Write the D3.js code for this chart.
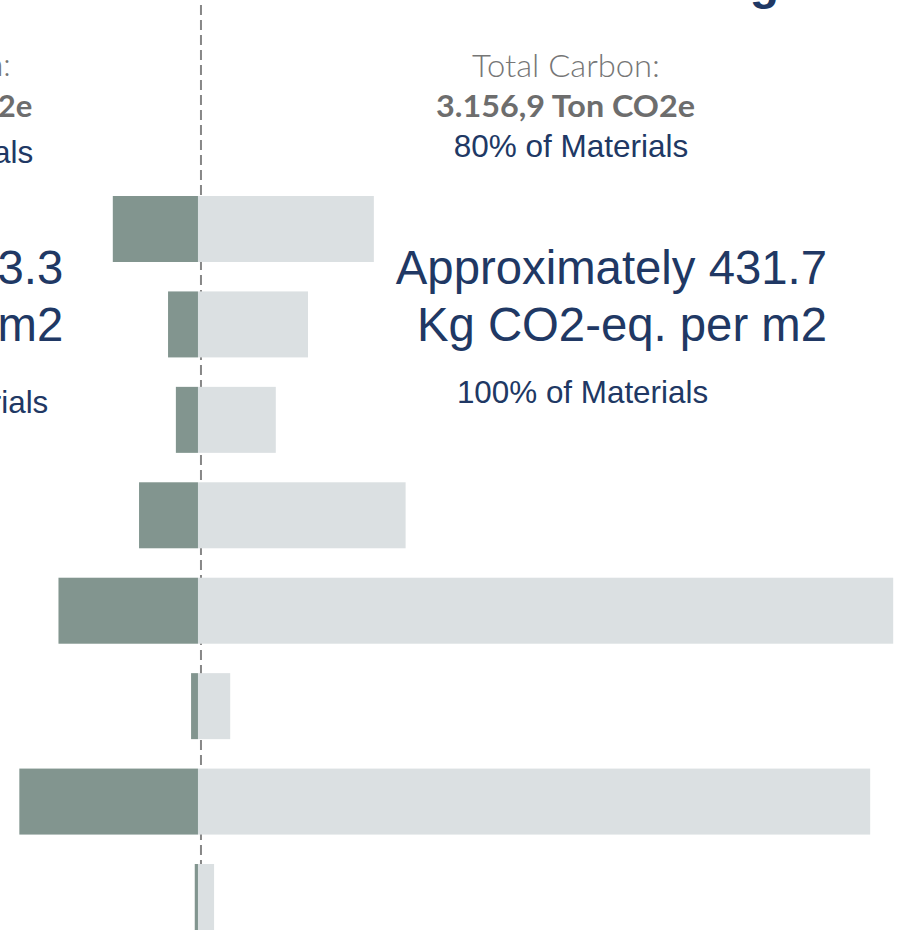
<!DOCTYPE html>
<html>
<head>
<meta charset="utf-8">
<script src="https://cdn.jsdelivr.net/npm/d3@7"></script>
<style>
  html, body { margin: 0; padding: 0; background: #ffffff; }
  svg { display: block; }
</style>
</head>
<body>
<div id="chart"></div>
<script>
// Material groups (one bar pair per group)
const categories = ["Group 1", "Group 2", "Group 3", "Group 4", "Group 5", "Group 6", "Group 7", "Group 8"];

// Embodied carbon per group, Kg CO2-eq. per m2
const reducedValues = [18.5, 6.5, 4.8, 12.8, 30.3, 1.5, 38.8, 0.7];     // drawn to the left
const fullValues    = [38.2, 23.9, 16.9, 45.1, 151.0, 7.0, 146.0, 3.5]; // drawn to the right

// Summary texts
const titleText = "Embodied Carbon of the Building";
const leftSummary  = ["Total Carbon:", "828,5 Ton CO2e", "21% of Materials"];
const rightSummary = ["Total Carbon:", "3.156,9 Ton CO2e", "80% of Materials"];
const leftPerM2  = ["Approximately 113.3", "Kg CO2-eq. per m2", "26% of Materials"];
const rightPerM2 = ["Approximately 431.7", "Kg CO2-eq. per m2", "100% of Materials"];

// Divider position on the value axis
const dividerValue = 0.65;

const width = 907, height = 933;
const navy = "#203864";
const grayText = "#767676";
const darkFill = "#82958f";
const lightFill = "#dbe0e2";

const svg = d3.select("#chart").append("svg")
  .attr("width", width).attr("height", height);

// Diverging value scale: reduced values go left of 0, full values right
const x = d3.scaleLinear().domain([-43, 154]).range([0, width]);
const y = d3.scaleBand().domain(categories).range([196, 930]).paddingInner(0.3084).paddingOuter(0);

// Dashed divider
svg.append("line")
  .attr("x1", x(dividerValue)).attr("x2", x(dividerValue))
  .attr("y1", 5).attr("y2", height)
  .attr("stroke", "#878787").attr("stroke-width", 2)
  .attr("stroke-dasharray", "10,5");

// Bars
const rows = categories.map((c, i) => ({ c, left: reducedValues[i], right: fullValues[i] }));

svg.append("g").selectAll("rect").data(rows).join("rect")
  .attr("x", d => x(-d.left))
  .attr("y", d => y(d.c))
  .attr("width", d => x(0) - x(-d.left))
  .attr("height", y.bandwidth())
  .attr("fill", darkFill);

svg.append("g").selectAll("rect").data(rows).join("rect")
  .attr("x", x(0))
  .attr("y", d => y(d.c))
  .attr("width", d => x(d.right) - x(0))
  .attr("height", y.bandwidth())
  .attr("fill", lightFill);

// Title
svg.append("text")
  .attr("x", 779).attr("y", -1)
  .attr("text-anchor", "end")
  .attr("font-family", "Liberation Sans, Arial, sans-serif")
  .attr("font-weight", "bold").attr("font-size", 48)
  .attr("fill", navy)
  .text(titleText);

// Summary blocks
function summary(lines, anchor, xs, ys, lengths) {
  const g = svg.append("g");
  const t0 = g.append("text")
    .attr("x", xs[0]).attr("y", ys[0]).attr("text-anchor", anchor)
    .attr("font-family", "Lato, 'Open Sans', sans-serif").attr("font-weight", 300)
    .attr("font-size", 31).attr("fill", grayText)
    .text(lines[0]);
  const t1 = g.append("text")
    .attr("x", xs[1]).attr("y", ys[1]).attr("text-anchor", anchor)
    .attr("font-family", "Lato, 'Open Sans', sans-serif").attr("font-weight", "bold")
    .attr("font-size", 31).attr("fill", "#6d6d6d")
    .text(lines[1]);
  if (lengths) {
    t0.attr("textLength", lengths[0]).attr("lengthAdjust", "spacingAndGlyphs");
    t1.attr("textLength", lengths[1]).attr("lengthAdjust", "spacingAndGlyphs");
  }
  g.append("text")
    .attr("x", xs[2]).attr("y", ys[2]).attr("text-anchor", anchor)
    .attr("font-family", "Liberation Sans, Arial, sans-serif")
    .attr("font-size", 31.5).attr("fill", navy)
    .text(lines[2]);
}
summary(rightSummary, "middle", [566, 565.5, 571], [76.7, 116.7, 156.7], [188, 259]);
summary(leftSummary, "end", [10.7, 32.3, 33.3], [76, 117, 163]);

function perM2(lines, xEnd, xThird, anchorThird, yThird) {
  const g = svg.append("g")
    .attr("font-family", "Liberation Sans, Arial, sans-serif").attr("fill", navy);
  g.append("text").attr("x", xEnd).attr("y", 284).attr("text-anchor", "end")
    .attr("font-size", 47.3).text(lines[0]);
  g.append("text").attr("x", xEnd).attr("y", 341).attr("text-anchor", "end")
    .attr("font-size", 47.3).text(lines[1]);
  g.append("text").attr("x", xThird).attr("y", yThird).attr("text-anchor", anchorThird)
    .attr("font-size", 31.4).text(lines[2]);
}
perM2(rightPerM2, 827, 582.5, "middle", 403.3);
perM2(leftPerM2, 63.3, 48.3, "end", 413);
</script>
</body>
</html>
